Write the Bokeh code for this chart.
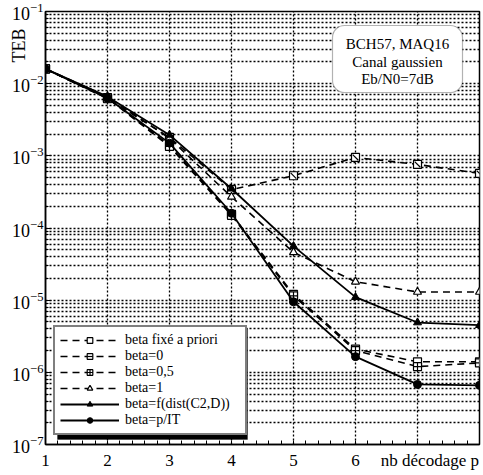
import math
from bokeh.plotting import figure
from bokeh.models import (FixedTicker, Legend, LegendItem, Label, BoxAnnotation)
from bokeh.embed import file_html
from bokeh.resources import INLINE

# ---- data ----
p_decod = [1, 2, 3, 4, 5, 6, 7, 8]
beta_fixe = [1.6e-2, 6.4e-3, 1.4e-3, 1.55e-4, 1.2e-5, 2.1e-6, 1.4e-6, 1.4e-6]
beta_0 = [1.6e-2, 6.2e-3, 1.8e-3, 3.4e-4, 5.3e-4, 9.5e-4, 7.6e-4, 5.7e-4]
beta_05 = [1.6e-2, 6.3e-3, 1.35e-3, 1.5e-4, 1.15e-5, 2.0e-6, 1.2e-6, 1.35e-6]
beta_1 = [1.6e-2, 6.6e-3, 1.75e-3, 2.7e-4, 4.6e-5, 1.8e-5, 1.3e-5, 1.3e-5]
beta_f = [1.6e-2, 6.6e-3, 1.95e-3, 3.5e-4, 5.6e-5, 1.1e-5, 4.9e-6, 4.5e-6]
beta_pit = [1.6e-2, 6.3e-3, 1.5e-3, 1.6e-4, 9.5e-6, 1.65e-6, 6.8e-7, 6.6e-7]

x_tick_labels = [1, 2, 3, 4, 5, 6]
x_title_pos = 7.2
x_title = "nb décodage p"
y_title = "TEB"
grid_x = [1, 2, 3, 4, 5, 6, 7, 8]
decades = [1e-7, 1e-6, 1e-5, 1e-4, 1e-3, 1e-2, 1e-1]
labels = ["beta fixé a priori", "beta=0", "beta=0,5", "beta=1",
          "beta=f(dist(C2,D))", "beta=p/IT"]

FONT = "Liberation Serif"

p = figure(width=483, height=475, y_axis_type="log",
           x_range=(1, 8), y_range=(1e-7, 1e-1),
           output_backend="svg", toolbar_location=None,
           min_border_left=45, min_border_right=4,
           min_border_top=11, min_border_bottom=31)
p.background_fill_color = "white"
p.outline_line_color = "black"
p.outline_line_width = 1.5

# axes
p.xaxis.ticker = FixedTicker(ticks=x_tick_labels + [x_title_pos],
                             minor_ticks=[i / 5 for i in range(5, 41)])
p.xaxis.major_label_overrides = {x_title_pos: x_title}
p.yaxis.ticker = FixedTicker(ticks=decades,
                             minor_ticks=[m * d for d in decades[:-1] for m in range(2, 10)])
for ax in (p.xaxis[0], p.yaxis[0]):
    ax.axis_line_color = "black"
    ax.axis_line_width = 1.5
    ax.major_tick_out = 0
    ax.minor_tick_out = 0
    ax.major_tick_line_color = "black"
    ax.minor_tick_line_color = "black"
    ax.major_label_text_font = FONT
    ax.major_label_text_color = "black"
p.xaxis.major_tick_in = 0
p.xaxis.minor_tick_in = 4
p.yaxis.major_tick_in = 6
p.yaxis.minor_tick_in = 3
p.xaxis.major_label_text_font_size = "17px"
p.yaxis.major_label_text_font_size = "18px"
p.xaxis.major_label_standoff = 6
p.yaxis.major_label_standoff = 2

# y title: a label in the left side panel; the y axis gets a blank label with a
# negative standoff so that both panels fit in the left border
yax = p.yaxis[0]
yax.axis_label = "\u00a0"
yax.axis_label_text_font_size = "1px"
yax.axis_label_standoff = -25
p.add_layout(Label(x=9, y=399, x_units="screen", y_units="screen", text=y_title,
                   angle=math.pi / 2, text_font=FONT, text_font_size="18px",
                   text_align="center", text_baseline="middle", text_color="black"),
             "left")

# grid
p.xgrid.ticker = FixedTicker(ticks=grid_x)
for g in (p.xgrid[0], p.ygrid[0]):
    g.grid_line_color = "black"
    g.grid_line_dash = "2 2"
    g.grid_line_width = 1.3
p.ygrid.minor_grid_line_color = "black"
p.ygrid.minor_grid_line_dash = "2 2"
p.ygrid.minor_grid_line_width = 1.3

DASH = "7 5"
MS = 8

items = []
# beta fixe a priori
l1 = p.line(p_decod, beta_fixe, line_color="black", line_width=1.6, line_dash=DASH)
m1 = p.scatter(p_decod, beta_fixe, marker="square", size=MS, fill_color="white",
               line_color="black", line_width=1.2)
items.append(LegendItem(label=labels[0], renderers=[l1, m1]))
# beta=0
l2 = p.line(p_decod, beta_0, line_color="black", line_width=1.6, line_dash=DASH)
m2 = p.scatter(p_decod, beta_0, marker="square", size=MS, fill_color="white",
               line_color="black", line_width=1.2)
m2b = p.scatter(p_decod, beta_0, marker="dash", size=MS, angle=-math.pi / 4,
                line_color="black", line_width=1.2)
items.append(LegendItem(label=labels[1], renderers=[l2, m2, m2b]))
# beta=0,5
l3 = p.line(p_decod, beta_05, line_color="black", line_width=1.6, line_dash=DASH)
m3 = p.scatter(p_decod, beta_05, marker="square_cross", size=MS, fill_color="white",
               line_color="black", line_width=1.2)
items.append(LegendItem(label=labels[2], renderers=[l3, m3]))
# beta=1
l4 = p.line(p_decod, beta_1, line_color="black", line_width=1.6, line_dash=DASH)
m4 = p.scatter(p_decod, beta_1, marker="triangle", size=MS, fill_color="white",
               line_color="black", line_width=1.2)
items.append(LegendItem(label=labels[3], renderers=[l4, m4]))
# beta=f(dist(C2,D))
l5 = p.line(p_decod, beta_f, line_color="black", line_width=1.8)
m5 = p.scatter(p_decod, beta_f, marker="triangle", size=MS, fill_color="black",
               line_color="black")
items.append(LegendItem(label=labels[4], renderers=[l5, m5]))
# beta=p/IT
l6 = p.line(p_decod, beta_pit, line_color="black", line_width=1.8)
m6 = p.scatter(p_decod, beta_pit, marker="circle", size=MS, fill_color="black",
               line_color="black")
items.append(LegendItem(label=labels[5], renderers=[l6, m6]))

# legend shadow
shadow = BoxAnnotation(left=12, right=202, bottom=5, top=116,
                       left_units="screen", right_units="screen",
                       bottom_units="screen", top_units="screen",
                       fill_color="black", fill_alpha=1.0, line_color="black")
p.add_layout(shadow)

legend = Legend(items=items, location=(8, 9), orientation="vertical")
legend.border_line_color = "black"
legend.border_line_width = 2
legend.background_fill_color = "white"
legend.background_fill_alpha = 1.0
legend.padding = 5
legend.spacing = 0
legend.margin = 0
legend.glyph_width = 59
legend.glyph_height = 14
legend.label_height = 14
legend.label_width = 115
legend.label_standoff = 6
legend.label_text_font = FONT
legend.label_text_font_size = "14px"
legend.label_text_color = "black"
p.add_layout(legend)

# annotation box
box = BoxAnnotation(left=287, right=417, bottom=352, top=419,
                    left_units="screen", right_units="screen",
                    bottom_units="screen", top_units="screen",
                    fill_color="white", fill_alpha=1.0,
                    line_color="black", line_width=1.2, border_radius=12)
p.add_layout(box)
for txt, yy in [("BCH57, MAQ16", 401), ("Canal gaussien", 383), ("Eb/N0=7dB", 366)]:
    p.add_layout(Label(x=352, y=yy, x_units="screen", y_units="screen", text=txt,
                       text_font=FONT, text_font_size="15px", text_align="center",
                       text_baseline="middle", text_color="black"))

open("out.html", "w").write(file_html(p, INLINE))
